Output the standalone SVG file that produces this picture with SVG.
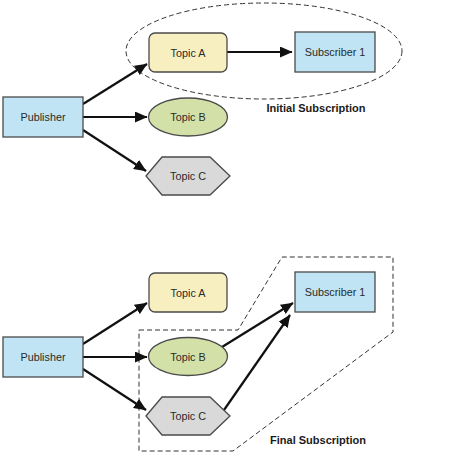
<svg xmlns="http://www.w3.org/2000/svg" width="450" height="460" viewBox="0 0 450 460">
<style>
.lbl{font-family:"Liberation Sans",Arial,sans-serif;font-size:10.8px;fill:#2a2a2a;text-anchor:middle;dominant-baseline:central}
.cap{font-family:"Liberation Sans",Arial,sans-serif;font-size:11px;font-weight:bold;fill:#1a1a1a;text-anchor:middle}
.box{stroke:#4a4a4a;stroke-width:1.3}
.blue{fill:#c0e4f4}
.yel{fill:#f8efc0}
.grn{fill:#d3e1a9}
.gry{fill:#d9d9d9}
.con{stroke:#111;stroke-width:2.2;fill:none;marker-end:url(#ah)}
.dash{stroke:#333;stroke-width:1;fill:none;stroke-dasharray:5 3}
</style>
<defs>
<marker id="ah" markerUnits="userSpaceOnUse" markerWidth="13" markerHeight="11" refX="12" refY="5.5" orient="auto">
<path d="M0,0 L12.5,5.5 L0,11 z" fill="#111"/>
</marker>
</defs>
<g id="boundaries">
<ellipse cx="264" cy="51" rx="138" ry="48" class="dash"/>
<polygon points="139,330 238,330 282,257 393,257 393,332 233,451 139,451" class="dash"/>
</g>
<g id="connectors">
<line x1="83" y1="104" x2="147" y2="64" class="con"/>
<line x1="83" y1="117" x2="147" y2="117" class="con"/>
<line x1="83" y1="130" x2="146" y2="171" class="con"/>
<line x1="227" y1="52" x2="292" y2="52" class="con"/>
<line x1="83" y1="344" x2="147" y2="303" class="con"/>
<line x1="83" y1="357" x2="147" y2="357" class="con"/>
<line x1="83" y1="369" x2="146" y2="410" class="con"/>
<line x1="222" y1="347" x2="293" y2="303" class="con"/>
<line x1="224" y1="410" x2="290" y2="315" class="con"/>
</g>
<g id="publisher1"><rect x="3" y="97" width="80" height="40" class="box blue"/><text x="43" y="117" class="lbl">Publisher</text></g>
<g id="topicA1"><rect x="149" y="33" width="78" height="39" rx="6" class="box yel"/><text x="188" y="52.5" class="lbl">Topic A</text></g>
<g id="topicB1"><ellipse cx="188" cy="117" rx="39.5" ry="19" class="box grn"/><text x="188" y="117" class="lbl">Topic B</text></g>
<g id="topicC1"><polygon points="146,176 162,157 210,157 230,176 210,195 162,195" class="box gry"/><text x="188" y="176" class="lbl">Topic C</text></g>
<g id="subscriber1a"><rect x="295" y="32" width="80" height="40" class="box blue"/><text x="335" y="52" class="lbl">Subscriber 1</text></g>
<g id="caption1"><text x="316" y="112" class="cap">Initial Subscription</text></g>
<g id="publisher2"><rect x="3" y="337" width="80" height="40" class="box blue"/><text x="43" y="357" class="lbl">Publisher</text></g>
<g id="topicA2"><rect x="149" y="273" width="78" height="39" rx="6" class="box yel"/><text x="188" y="292.5" class="lbl">Topic A</text></g>
<g id="topicB2"><ellipse cx="188" cy="356.5" rx="39.5" ry="19" class="box grn"/><text x="188" y="356.5" class="lbl">Topic B</text></g>
<g id="topicC2"><polygon points="146,416 162,397 210,397 230,416 210,435 162,435" class="box gry"/><text x="188" y="416" class="lbl">Topic C</text></g>
<g id="subscriber1b"><rect x="295" y="272" width="80" height="40" class="box blue"/><text x="335" y="292" class="lbl">Subscriber 1</text></g>
<g id="caption2"><text x="318" y="444" class="cap">Final Subscription</text></g>
</svg>
